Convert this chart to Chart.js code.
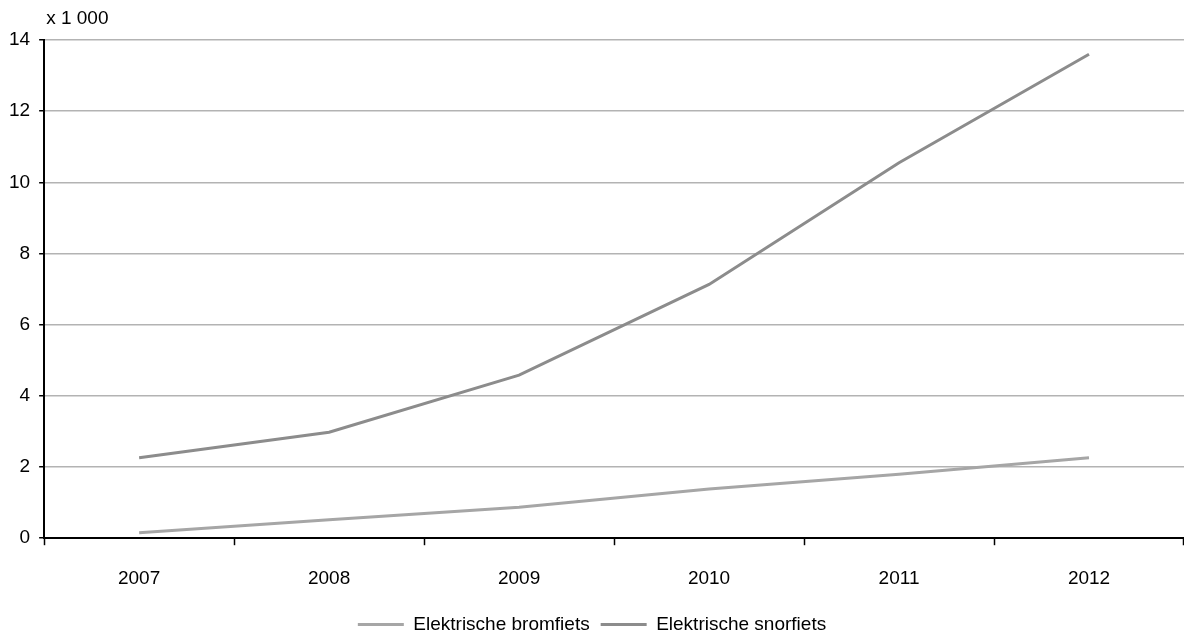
<!DOCTYPE html>
<html>
<head>
<meta charset="utf-8">
<script src="https://cdn.jsdelivr.net/npm/chart.js@4/dist/chart.umd.min.js"></script>
<style>
  html, body { margin: 0; padding: 0; background: #fff; }
  #wrap { width: 1184px; height: 637px; position: relative; }
</style>
</head>
<body>
<div id="wrap"><canvas id="myChart"></canvas></div>
<script>
const years = ['2007', '2008', '2009', '2010', '2011', '2012'];
const bromfiets = [0.15, 0.52, 0.87, 1.38, 1.8, 2.26];
const snorfiets = [2.26, 2.98, 4.58, 7.13, 10.55, 13.6];
const yTicks = [0, 2, 4, 6, 8, 10, 12, 14];
const unitLabel = 'x 1 000';

const unitText = {
    id: 'unitText',
    afterDraw(chart) {
        const ctx = chart.ctx;
        ctx.save();
        ctx.font = '19px "Liberation Sans", Arial, sans-serif';
        ctx.fillStyle = '#000';
        ctx.textAlign = 'left';
        ctx.textBaseline = 'middle';
        ctx.fillText(unitLabel, chart.chartArea.left + 2, chart.chartArea.top - 21);
        ctx.restore();
    }
};

Chart.defaults.font.family = '"Liberation Sans", Arial, sans-serif';
Chart.defaults.font.size = 19;
Chart.defaults.color = '#000';

const ctx = document.getElementById('myChart');
const myChart = new Chart(ctx, {
    type: 'line',
    data: {
        labels: years,
        datasets: [
            {
                label: 'Elektrische bromfiets',
                data: bromfiets,
                borderColor: '#a6a6a6',
                backgroundColor: '#a6a6a6',
                borderWidth: 3,
                pointRadius: 0,
                tension: 0
            },
            {
                label: 'Elektrische snorfiets',
                data: snorfiets,
                borderColor: '#8c8c8c',
                backgroundColor: '#8c8c8c',
                borderWidth: 3,
                pointRadius: 0,
                tension: 0
            }
        ]
    },
    options: {
        responsive: true,
        maintainAspectRatio: false,
        animation: false,
        layout: { padding: { top: 40, right: 0, left: 0, bottom: -7 } },
        plugins: {
            legend: {
                position: 'bottom',
                labels: {
                    usePointStyle: true,
                    pointStyle: 'line',
                    pointStyleWidth: 46,
                    boxHeight: 3,
                    padding: 11,
                    font: { size: 19 }
                }
            },
            tooltip: { enabled: false }
        },
        scales: {
            x: {
                offset: true,
                afterFit(scale) {
                    scale.height -= 8;
                },
                grid: {
                    offset: true,
                    drawOnChartArea: false,
                    drawTicks: true,
                    tickLength: 7,
                    tickColor: '#000',
                    tickWidth: 1.5
                },
                border: { color: '#000', width: 2 },
                ticks: { padding: 22, font: { size: 19 } }
            },
            y: {
                min: 0,
                max: 14,
                afterBuildTicks(axis) {
                    axis.ticks = yTicks.map(v => ({ value: v }));
                },
                grid: {
                    color: '#b3b3b3',
                    lineWidth: 1.5,
                    tickLength: 5,
                    tickColor: '#000',
                    tickWidth: 1.5
                },
                border: { color: '#000', width: 2 },
                ticks: { padding: 9, font: { size: 19 } }
            }
        }
    },
    plugins: [unitText]
});
</script>
</body>
</html>
